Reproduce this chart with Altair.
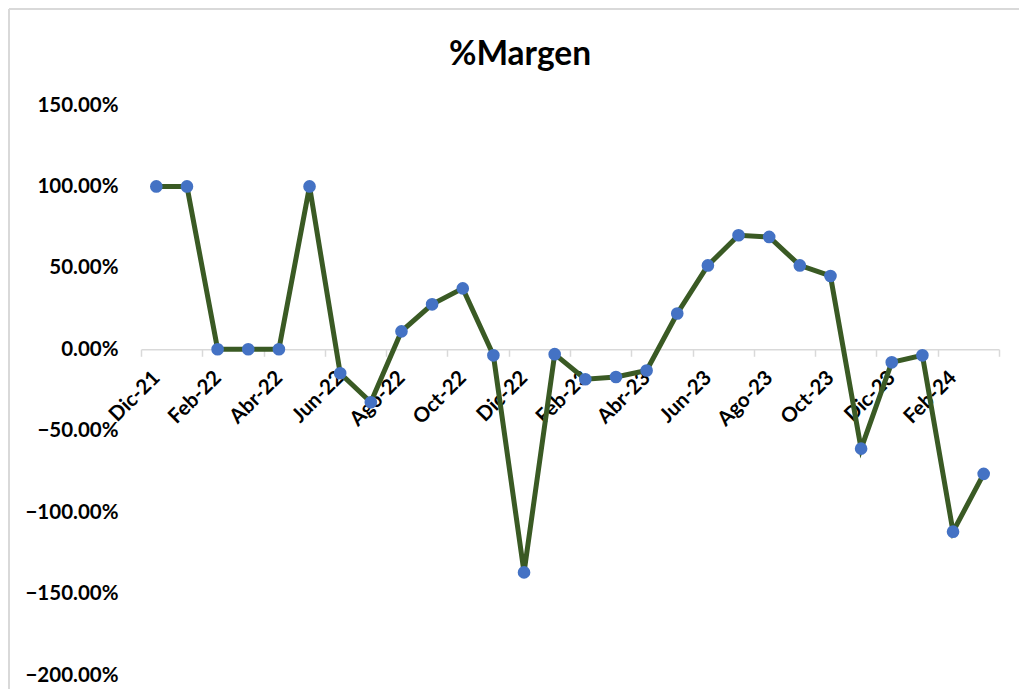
import altair as alt
import pandas as pd

months = ["Dic-21", "Ene-22", "Feb-22", "Mar-22", "Abr-22", "May-22", "Jun-22",
          "Jul-22", "Ago-22", "Sep-22", "Oct-22", "Nov-22", "Dic-22", "Ene-23",
          "Feb-23", "Mar-23", "Abr-23", "May-23", "Jun-23", "Jul-23", "Ago-23",
          "Sep-23", "Oct-23", "Nov-23", "Dic-23", "Ene-24", "Feb-24", "Mar-24"]
margen = [1.00, 1.00, 0.00, 0.00, 0.00, 1.00, -0.147,
          -0.325, 0.11, 0.276, 0.374, -0.037, -1.37, -0.03,
          -0.184, -0.17, -0.13, 0.22, 0.515, 0.70, 0.69,
          0.515, 0.45, -0.61, -0.08, -0.037, -1.12, -0.765]
y_ticks = [-2.0, -1.5, -1.0, -0.5, 0.0, 0.5, 1.0, 1.5]

df = pd.DataFrame({"idx": list(range(len(months))), "mes": months, "margen": margen})

W, H = 858, 570
zero_offset = -H * 2.0 / 3.5
FONT = "Lato"

label_array = "[" + ",".join("'%s'" % m for m in months) + "]"
tick_values = [i - 0.5 for i in range(0, len(months) + 1, 2)]
label_values = list(range(0, len(months), 2))
x_values = sorted(tick_values + label_values)

xscale = alt.Scale(domain=[-0.5, len(months) - 0.5], nice=False, zero=False)
yscale = alt.Scale(domain=[-2.0, 1.5], nice=False, zero=False)

xaxis = alt.Axis(
    values=x_values,
    labelExpr="datum.value % 1 == 0 ? " + label_array + "[round(datum.value)] : ''",
    ticks=True, tickSize=7, tickColor="#D9D9D9", tickWidth=1.5,
    tickOpacity={"condition": {"test": "datum.value % 1 != 0", "value": 1}, "value": 0},
    domainColor="#D9D9D9", domainWidth=1.5, grid=False, offset=zero_offset, title=None,
    labelAngle=-45, labelAlign="right", labelBaseline="middle", labelPadding=18,
    labelFontSize=20.5, labelFontWeight="bold", labelColor="black", labelFont=FONT,
    labelOverlap=False, labelBound=False, labelFlush=False,
)
yaxis = alt.Axis(
    values=y_ticks, format=".2%", domain=False, ticks=False, grid=False,
    labelPadding=23, title=None, labelFontSize=20.5, labelFontWeight="bold",
    labelColor="black", labelFont=FONT,
)

base = alt.Chart(df)

line = base.mark_line(color="#3A5A24", strokeWidth=5).encode(
    x=alt.X("idx:Q", scale=xscale, axis=xaxis),
    y=alt.Y("margen:Q", scale=yscale, axis=yaxis),
)

points = base.mark_circle(size=160, color="#4472C4", opacity=1).encode(
    x=alt.X("idx:Q", scale=xscale, axis=xaxis),
    y=alt.Y("margen:Q", scale=yscale, axis=yaxis),
)

frame_df = pd.DataFrame({"a": [0]})
frame_top = alt.Chart(frame_df).mark_rule(color="#D9D9D9", strokeWidth=2).encode(
    x=alt.value(-132), x2=alt.value(1000), y=alt.value(-96),
)
frame_left = alt.Chart(frame_df).mark_rule(color="#D9D9D9", strokeWidth=2).encode(
    x=alt.value(-132), y=alt.value(-96), y2=alt.value(700),
)

chart = alt.layer(frame_top, frame_left, line, points).properties(
    width=W, height=H,
    title=alt.TitleParams("%Margen", fontSize=33.5, fontWeight="bold", font=FONT,
                          color="black", anchor="middle", dx=-50, offset=-90,
                          baseline="alphabetic"),
    autosize=alt.AutoSizeParams(type="none"),
    padding={"left": 133, "top": 97, "right": 20, "bottom": 14},
).configure_view(stroke=None)

chart.save("out.html", embed_options={"renderer": "svg", "actions": False})
